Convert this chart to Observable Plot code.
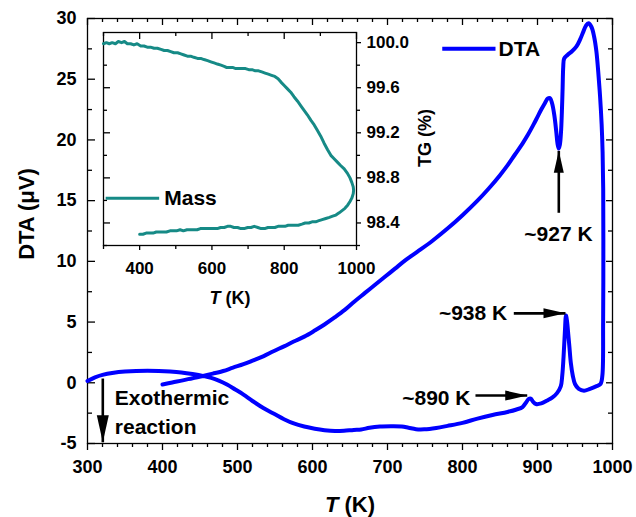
<!DOCTYPE html>
<html><head><meta charset="utf-8">
<script src="https://cdn.jsdelivr.net/npm/d3@7"></script>
<script src="https://cdn.jsdelivr.net/npm/@observablehq/plot@0.6"></script>
<style>
html,body{margin:0;padding:0;background:#fff;}
#chart{position:relative;width:636px;height:517px;}
#chart svg{position:absolute;left:0;top:0;}
</style></head><body><div id="chart"></div>
<script>
// ---------- DTA curve (path order: heating branch, then return branch) ----------
const dtaT = [300,310,320,335,350,365,380,395,410,425,440,455,465,475,486,497,508,520,535,550,562,575,589,603,616,630,642,655,665,676,690,705,719,728,738,749,765,780,800,820,840,860,872,880,885,888,891,894,898,905,913,920,926,931,933,934.7,936.5,938,939.5,941,942.5,944.5,947,950,955,962,970,978,984,
  986.5,987.5,987.8,987.6,986.8,985.5,983.5,981,978.5,975.5,972,968,964.5,961,957,952,946,940,935.5,934.3,933.5,932.5,931.3,929.8,928.2,926.7,925,922.5,919.5,916.5,913.5,910,905,900,895,887,880,870,860,850,835,820,800,780,760,740,724,710,697,683,670,656,643,630,616,603,589,575,562,548,535,521,508,494,481,467,454,440,427,413,400];
const dtaV = [0.15,0.45,0.65,0.82,0.92,0.98,1.0,0.98,0.93,0.85,0.72,0.55,0.40,0.18,-0.14,-0.55,-0.97,-1.5,-2.1,-2.6,-3.0,-3.35,-3.6,-3.78,-3.9,-3.97,-3.95,-3.88,-3.85,-3.7,-3.6,-3.58,-3.6,-3.7,-3.82,-3.83,-3.72,-3.55,-3.3,-2.95,-2.65,-2.4,-2.2,-2.0,-1.6,-1.35,-1.3,-1.55,-1.75,-1.7,-1.45,-1.2,-0.85,-0.3,0.6,2.1,4.2,5.55,5.0,4.0,3.0,1.6,0.6,-0.1,-0.5,-0.65,-0.5,-0.3,-0.1,
  0.6,5,11,16,19,21.3,23.5,25.6,27.3,28.5,29.3,29.6,29.4,28.9,28.3,27.7,27.3,27.0,26.7,26.0,24.3,22.3,20.6,19.6,19.3,19.7,20.7,22.0,23.0,23.45,23.4,23.05,22.5,21.9,21.3,20.4,19.7,18.8,17.9,17.1,16.0,15.0,13.8,12.7,11.7,10.8,10.1,9.4,8.75,8.05,7.4,6.7,6.0,5.4,4.8,4.3,3.8,3.4,3.0,2.6,2.2,1.85,1.53,1.25,0.97,0.75,0.56,0.38,0.2,0.03,-0.14];

// ---------- TG (mass) curve for the inset ----------
const massT = [300,308,316,324,333,341,350,358,366,375,384,393,403,412,421,430,440,449,459,468,477,486,495,505,514,523,532,541,550,560,569,578,588,597,606,615,625,634,640,648,657,666,675,684,693,702,711,720,729,738,747,756,765,774,783,791,800,809,818,827,837,846,855,864,874,883,892,901,910,920,929,938,947,956,966,975,982,987,991,992,
  991,987,982,976,968,960,952,943,934,925,915,905,896,887,877,868,858,849,839,830,820,811,802,792,783,774,764,755,746,736,727,717,708,699,689,680,671,661,652,643,634,624,615,605,596,587,577,568,559,549,540,531,521,512,502,493,484,474,465,456,446,437,428,418,409,400];
const massTG = [99.99,100.00,99.99,100.00,99.99,100.01,100.00,100.01,99.99,99.99,99.98,99.99,99.97,99.97,99.96,99.96,99.95,99.95,99.94,99.93,99.93,99.92,99.91,99.91,99.90,99.89,99.88,99.88,99.87,99.86,99.86,99.85,99.84,99.83,99.82,99.81,99.80,99.79,99.78,99.78,99.78,99.77,99.77,99.77,99.77,99.76,99.76,99.75,99.75,99.74,99.73,99.72,99.71,99.70,99.68,99.65,99.62,99.59,99.56,99.52,99.48,99.44,99.40,99.36,99.31,99.27,99.22,99.17,99.11,99.05,99.00,98.97,98.94,98.91,98.88,98.84,98.80,98.76,98.72,98.69,
  98.66,98.62,98.59,98.56,98.53,98.51,98.49,98.47,98.46,98.45,98.44,98.43,98.42,98.41,98.41,98.40,98.40,98.39,98.38,98.38,98.38,98.38,98.37,98.37,98.37,98.36,98.36,98.36,98.35,98.35,98.36,98.37,98.36,98.36,98.35,98.35,98.36,98.36,98.37,98.37,98.36,98.36,98.35,98.35,98.35,98.35,98.35,98.35,98.34,98.34,98.34,98.34,98.33,98.34,98.33,98.33,98.33,98.32,98.32,98.32,98.32,98.31,98.31,98.31,98.30,98.30];

// ---------- ticks ----------
const xMajor = [300,400,500,600,700,800,900,1000];
const xMinor = [320,340,360,380,420,440,460,480,520,540,560,580,620,640,660,680,720,740,760,780,820,840,860,880,920,940,960,980];
const yMajor = [-5,0,5,10,15,20,25,30];
const yMinor = [-2.5,2.5,7.5,12.5,17.5,22.5,27.5];
const inXLabels = [400,600,800,1000];
const inXMinor = [300,500,700,900];
const inYLabels = [98.4,98.8,99.2,99.6,100.0];
const inYMinor = [98.2,98.6,99.0,99.4,99.8];

// ---------- annotations ----------
const annoText   = ["~927 K","~938 K","~890 K","Exothermic","reaction"];
const annoX      = [928, 859.6, 810.7, 336.4, 336.4];
const annoY      = [12.2, 5.74, -1.24, -1.24, -3.63];
const annoAnchor = ["middle","end","end","start","start"];
const arrowX1 = [928.4, 868.4, 817.3, 320.4];
const arrowY1 = [14.0, 5.72, -1.05, 0.35];
const arrowX2 = [928.4, 937.3, 886.3, 320.4];
const arrowY2 = [19.1, 5.72, -1.05, -4.9];
const arrowRot = [0, 90, 90, 180];
const arrowBig = [false, false, false, true];

// ---------- legends ----------
const legendMain  = {label: "DTA",  x1: 773, x2: 844, y: 27.5, tx: 848};
const legendInset = {label: "Mass", x1: 306, x2: 454, y: 98.62, tx: 468};

const BLUE = "#0000ff", TEAL = "#168a86";
const FONT = "'Liberation Sans', Arial, Helvetica, sans-serif";

// arrow head symbols (tip at the origin, pointing up)
const headSmall = {draw(ctx) { ctx.moveTo(0, 0); ctx.lineTo(-5, 22); ctx.lineTo(5, 22); ctx.closePath(); }};
const headBig   = {draw(ctx) { ctx.moveTo(0, 0); ctx.lineTo(-6, 27); ctx.lineTo(6, 27); ctx.closePath(); }};

// ---------- main plot ----------
const W = 636, Hh = 517;
const mL = 87, mR = 24, mT = 18, mB = 74;
const PW = W - mL - mR, PH = Hh - mT - mB;
const idx = n => Array.from({length: n}, (_, i) => i);
const annoMarks = ["start", "middle", "end"].map(a =>
  Plot.text(idx(annoText.length).filter(i => annoAnchor[i] === a), {
    x: i => annoX[i], y: i => annoY[i], text: i => annoText[i],
    textAnchor: a, fontSize: 21, fontWeight: "bold", lineAnchor: "middle"
  }));

const main = Plot.plot({
  width: W, height: Hh,
  marginLeft: mL, marginRight: mR, marginTop: mT, marginBottom: mB,
  x: {domain: [300, 1000]},
  y: {domain: [-5, 30]},
  style: {fontFamily: FONT, fontSize: "18px", fontWeight: "bold", color: "black", background: "transparent", overflow: "visible"},
  marks: [
    Plot.frame({stroke: "black", strokeWidth: 1.3}),
    // bottom ticks (outward)
    Plot.tickX(xMajor, {x: d => d, insetTop: PH, insetBottom: -7, strokeWidth: 1.3}),
    Plot.tickX(xMinor, {x: d => d, insetTop: PH, insetBottom: -4, strokeWidth: 1.3}),
    // top ticks (inward)
    Plot.tickX(xMajor, {x: d => d, insetBottom: PH - 7, strokeWidth: 1.3}),
    Plot.tickX(xMinor, {x: d => d, insetBottom: PH - 4, strokeWidth: 1.3}),
    // left ticks (inward)
    Plot.tickY(yMajor, {y: d => d, insetRight: PW - 8, strokeWidth: 1.3}),
    Plot.tickY(yMinor, {y: d => d, insetRight: PW - 5, strokeWidth: 1.3}),
    // right ticks (inward)
    Plot.tickY(yMajor, {y: d => d, insetLeft: PW - 6, strokeWidth: 1.3}),
    Plot.tickY(yMinor, {y: d => d, insetLeft: PW - 4, strokeWidth: 1.3}),
    Plot.axisX(xMajor, {tickSize: 0, tickPadding: 17, tickFormat: d => String(d), label: null, fontSize: 18}),
    Plot.axisY(yMajor, {tickSize: 0, tickPadding: 11, tickFormat: d => String(d), label: null, fontSize: 18}),
    // axis titles
    Plot.text(["T (K)"], {frameAnchor: "bottom", dy: 61, textAnchor: "middle", fontSize: 22, fontWeight: "bold", lineAnchor: "middle"}),
    Plot.text(["DTA (\u03bcV)"], {frameAnchor: "left", dx: -61, dy: -17, rotate: -90, textAnchor: "middle", fontSize: 22, fontWeight: "bold", lineAnchor: "middle"}),
    // DTA curve
    Plot.line(idx(dtaT.length), {x: i => dtaT[i], y: i => dtaV[i], stroke: BLUE, strokeWidth: 4, curve: "catmull-rom", strokeLinejoin: "round", strokeLinecap: "round"}),
    // legend
    Plot.link([legendMain], {x1: "x1", x2: "x2", y1: "y", y2: "y", stroke: BLUE, strokeWidth: 4}),
    Plot.text([legendMain], {x: "tx", y: "y", text: "label", textAnchor: "start", fontSize: 21, fontWeight: "bold"}),
    // annotations
    Plot.link(idx(arrowX1.length), {x1: i => arrowX1[i], y1: i => arrowY1[i], x2: i => arrowX2[i], y2: i => arrowY2[i], stroke: "black", strokeWidth: 2.6}),
    Plot.dot(idx(arrowX1.length).filter(i => !arrowBig[i]), {x: i => arrowX2[i], y: i => arrowY2[i], symbol: headSmall, rotate: i => arrowRot[i], fill: "black", stroke: "none"}),
    Plot.dot(idx(arrowX1.length).filter(i => arrowBig[i]), {x: i => arrowX2[i], y: i => arrowY2[i], symbol: headBig, rotate: i => arrowRot[i], fill: "black", stroke: "none"}),
    ...annoMarks
  ]
});

// ---------- inset plot ----------
const iL = 103, iR = 280, iT = 32, iB = 272;
const IW = W - iL - iR, IH = Hh - iT - iB;
const inset = Plot.plot({
  width: W, height: Hh,
  marginLeft: iL, marginRight: iR, marginTop: iT, marginBottom: iB,
  x: {domain: [300, 1000]},
  y: {domain: [98.2, 100.09]},
  style: {fontFamily: FONT, fontSize: "17px", fontWeight: "bold", color: "black", background: "transparent", overflow: "visible"},
  marks: [
    Plot.frame({stroke: "black", strokeWidth: 1.3}),
    // bottom (outward)
    Plot.tickX(inXLabels, {x: d => d, insetTop: IH, insetBottom: -5, strokeWidth: 1.3}),
    Plot.tickX(inXMinor, {x: d => d, insetTop: IH, insetBottom: -4, strokeWidth: 1.3}),
    // top (inward)
    Plot.tickX(inXLabels, {x: d => d, insetBottom: IH - 7, strokeWidth: 1.3}),
    Plot.tickX(inXMinor, {x: d => d, insetBottom: IH - 4, strokeWidth: 1.3}),
    // left (inward)
    Plot.tickY(inYLabels, {y: d => d, insetRight: IW - 7, strokeWidth: 1.3}),
    Plot.tickY(inYMinor, {y: d => d, insetRight: IW - 4, strokeWidth: 1.3}),
    // right (outward)
    Plot.tickY(inYLabels, {y: d => d, insetLeft: IW, insetRight: -5, strokeWidth: 1.3}),
    Plot.tickY(inYMinor, {y: d => d, insetLeft: IW, insetRight: -4, strokeWidth: 1.3}),
    Plot.axisX(inXLabels, {tickSize: 0, tickPadding: 16, tickFormat: d => String(d), label: null, fontSize: 17}),
    Plot.axisY(inYLabels, {anchor: "right", tickSize: 0, tickPadding: 10, tickFormat: d => d.toFixed(1), label: null, fontSize: 17}),
    Plot.text(["T (K)"], {frameAnchor: "bottom", dy: 53, textAnchor: "middle", fontSize: 18, fontWeight: "bold", lineAnchor: "middle"}),
    Plot.text(["TG (%)"], {frameAnchor: "right", dx: 69, dy: -1, rotate: -90, textAnchor: "middle", fontSize: 18, fontWeight: "bold", lineAnchor: "middle"}),
    Plot.line(idx(massT.length), {x: i => massT[i], y: i => massTG[i], stroke: TEAL, strokeWidth: 3, strokeLinejoin: "round"}),
    Plot.link([legendInset], {x1: "x1", x2: "x2", y1: "y", y2: "y", stroke: TEAL, strokeWidth: 3}),
    Plot.text([legendInset], {x: "tx", y: "y", text: "label", textAnchor: "start", fontSize: 21, fontWeight: "bold"})
  ]
});

const holder = document.getElementById("chart");
holder.appendChild(main);
holder.appendChild(inset);

// italic T in the axis titles
const NS = "http://www.w3.org/2000/svg";
for (const svg of [main, inset]) {
  svg.querySelectorAll("text").forEach(t => {
    if (t.textContent === "T (K)") {
      t.textContent = "";
      const ts = document.createElementNS(NS, "tspan");
      ts.setAttribute("font-style", "italic");
      ts.textContent = "T";
      t.appendChild(ts);
      t.appendChild(document.createTextNode(" (K)"));
    }
  });
}
</script></body></html>
